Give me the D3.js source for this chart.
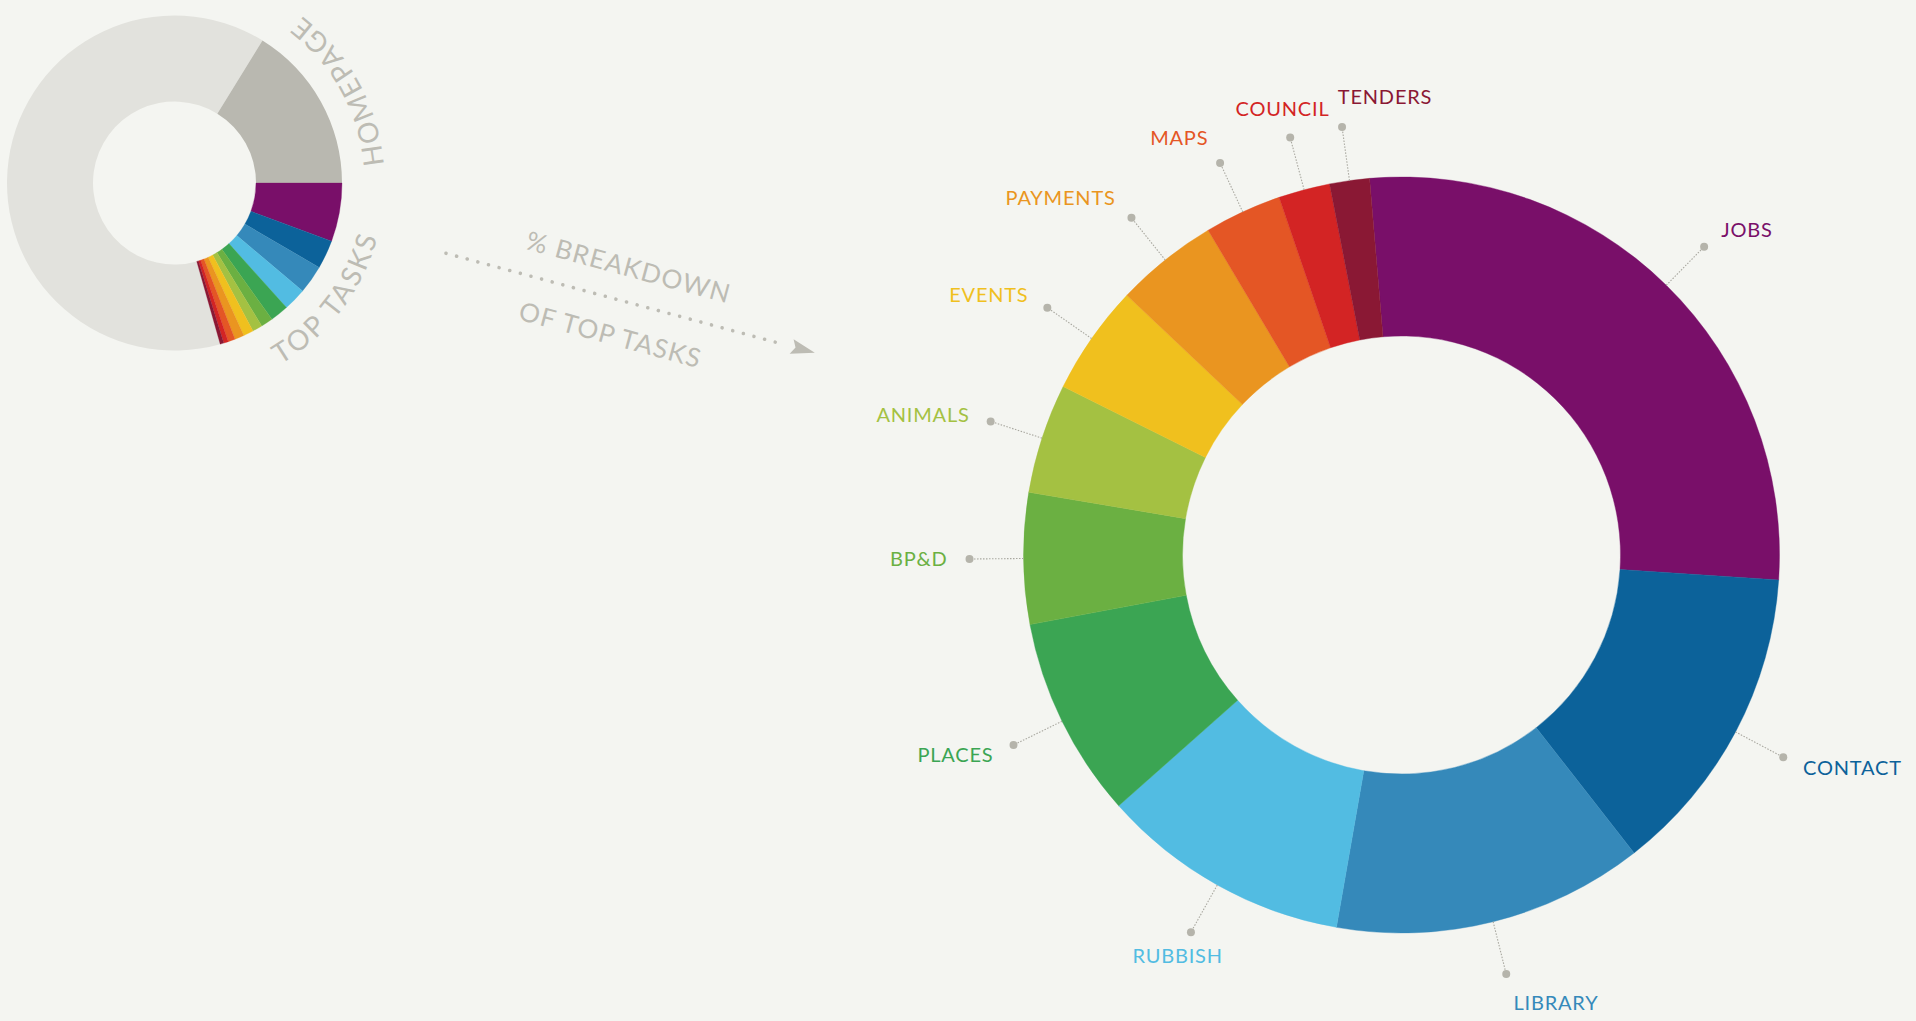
<!DOCTYPE html>
<html><head><meta charset="utf-8">
<script src="https://cdn.jsdelivr.net/npm/d3@7"></script>
<style>
html,body{margin:0;padding:0;background:#f4f5f1;overflow:hidden}
svg{display:block}
text{font-family:Lato,"Open Sans",sans-serif}
</style></head><body>
<svg id="chart" width="1916" height="1021"></svg>
<script>
// ---- data ----
const tasks = ["JOBS","CONTACT","LIBRARY","RUBBISH","PLACES","BP&D","ANIMALS","EVENTS","PAYMENTS","MAPS","COUNCIL","TENDERS"];
const taskShares = [27.4,13.4,13.3,10.7,8.6,5.6,4.7,4.7,4.4,3.3,2.2,1.7];
const taskColors = ["#790f69","#0c629a","#3589ba","#52bce2","#3ba553","#6bb042","#a4c142","#f0c01e","#ea9520","#e45625","#d32424","#8a1834"];
const overviewLabels = ["TOP TASKS","","HOMEPAGE"];
const overviewShares = [20.6,63.2,16.2];
const overviewColors = [null,"#e2e2dd","#b9b8b0"];
const arrowCaption = ["% BREAKDOWN","OF TOP TASKS"];

const deg = Math.PI/180;
const svg = d3.select("#chart");
const grey = "#bdbcb4";

// ---- small overview donut ----
const small = {cx:174.5, cy:183, R:167.5, r:81.5};
const gS = svg.append("g").attr("transform",`translate(${small.cx},${small.cy})`);
const overPie = d3.pie().sort(null).value(d=>d).startAngle(90*deg).endAngle(450*deg);
const overArcs = overPie(overviewShares);
const arcS = d3.arc().innerRadius(small.r).outerRadius(small.R);
gS.selectAll("path.over").data(overArcs.filter((d,i)=>overviewColors[i]))
  .join("path").attr("class","over").attr("d",arcS)
  .attr("fill",(d)=>overviewColors[d.index]);
// top tasks subdivided
const topArc = overArcs[0];
const subPie = d3.pie().sort(null).value(d=>d).startAngle(topArc.startAngle).endAngle(topArc.endAngle);
gS.selectAll("path.sub").data(subPie(taskShares)).join("path").attr("class","sub")
  .attr("d",arcS).attr("fill",(d,i)=>taskColors[i]).attr("stroke",(d,i)=>taskColors[i]).attr("stroke-width",0.3);

// curved labels
const labelR = 210;
function pt(a,r){return [r*Math.sin(a), -r*Math.cos(a)];}
overArcs.forEach((d,i)=>{
  if(!overviewLabels[i]) return;
  const mid=(d.startAngle+d.endAngle)/2, span=70*deg;
  const p1=pt(mid+span,labelR), p2=pt(mid-span,labelR);
  gS.append("path").attr("id","lp"+i).attr("fill","none")
    .attr("d",`M${p1[0]},${p1[1]} A${labelR},${labelR} 0 0 0 ${p2[0]},${p2[1]}`);
  gS.append("text").attr("font-size",28).attr("letter-spacing",2.6).attr("fill",grey)
    .append("textPath").attr("href","#lp"+i).attr("startOffset","50%")
    .attr("text-anchor","middle").text(overviewLabels[i]);
});

// ---- arrow with caption ----
const gA = svg.append("g").attr("transform","translate(446,253.3) rotate(15.1)");
gA.selectAll("circle").data(d3.range(0,352,11)).join("circle")
  .attr("cx",d=>d).attr("cy",0).attr("r",1.8).attr("fill",grey);
gA.append("path").attr("d","M358,-7.5 L382,0 L358,7.5 L362,0 Z").attr("fill",grey);
gA.selectAll("text").data(arrowCaption).join("text")
  .attr("x",180).attr("y",(d,i)=>i===0?-34:36).attr("dy","0.35em")
  .attr("text-anchor","middle").attr("font-size",26).attr("letter-spacing",1.2)
  .attr("fill",grey).text(d=>d);

// ---- main donut ----
const big = {cx:1401.5, cy:555, R:378, r:219, dotR:432};
const gB = svg.append("g").attr("transform",`translate(${big.cx},${big.cy})`);
const pie = d3.pie().sort(null).value(d=>d).startAngle(-4.85*deg).endAngle(355.15*deg);
const arcsB = pie(taskShares);
const arcB = d3.arc().innerRadius(big.r).outerRadius(big.R);
gB.selectAll("path.slice").data(arcsB).join("path").attr("class","slice")
  .attr("d",arcB).attr("fill",(d,i)=>taskColors[i])
  .attr("stroke",(d,i)=>taskColors[i]).attr("stroke-width",0.4);

const midA = d=>(d.startAngle+d.endAngle)/2;
const textR = d=>big.dotR + 22 + 9*Math.pow(Math.cos(midA(d)),4);
const lab = gB.selectAll("g.lab").data(arcsB).join("g").attr("class","lab");
lab.append("line")
  .attr("x1",d=>pt(midA(d),big.R)[0]).attr("y1",d=>pt(midA(d),big.R)[1])
  .attr("x2",d=>pt(midA(d),big.dotR)[0]).attr("y2",d=>pt(midA(d),big.dotR)[1])
  .attr("stroke","#a9a8a0").attr("stroke-width",1.1).attr("stroke-dasharray","1.5,1.5");
lab.append("circle")
  .attr("cx",d=>pt(midA(d),big.dotR)[0]).attr("cy",d=>pt(midA(d),big.dotR)[1])
  .attr("r",4).attr("fill","#b5b4ab");
function anchorFor(a){
  let d=((a/deg)%360+360)%360;
  if(d>=350||d<170) return "start";
  if(d<215||d>=340) return "middle";
  return "end";
}
lab.append("text")
  .attr("x",d=>pt(midA(d),textR(d))[0]).attr("y",d=>pt(midA(d),textR(d))[1])
  .attr("dy","0.36em")
  .attr("text-anchor",d=>anchorFor(midA(d)))
  .attr("font-size",20).attr("letter-spacing",0.8)
  .attr("fill",(d,i)=>taskColors[i]).text((d,i)=>tasks[i]);
</script>
</body></html>
